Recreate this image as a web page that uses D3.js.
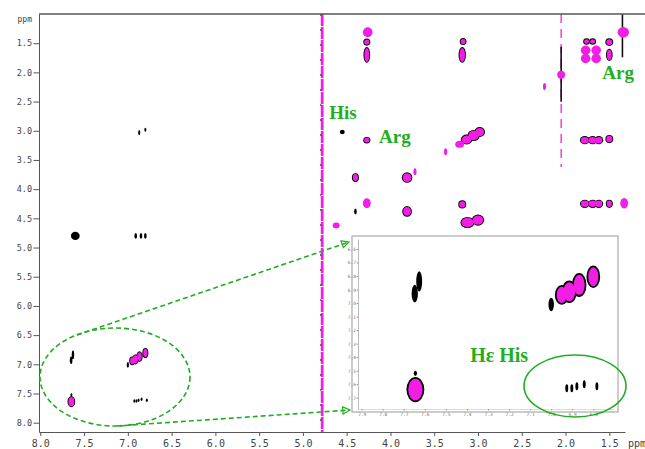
<!DOCTYPE html>
<html><head><meta charset="utf-8">
<script src="https://cdn.jsdelivr.net/npm/d3@7"></script>
<style>body{margin:0;background:#fff}svg{display:block}</style>
</head><body>
<svg id="c" width="645" height="449"></svg>
<script>
// ---------------- data ----------------
const xTickValues = [8.0,7.5,7.0,6.5,6.0,5.5,5.0,4.5,4.0,3.5,3.0,2.5,2.0,1.5];
const yTickValues = [1.5,2.0,2.5,3.0,3.5,4.0,4.5,5.0,5.5,6.0,6.5,7.0,7.5,8.0];
const insetXTicks = [7.9,7.8,7.7,7.6,7.5,7.4,7.3,7.2,7.1,7.0,6.9,6.8];
const insetYTicks = [6.6,6.7,6.8,6.9,7.0,7.1,7.2,7.3,7.4,7.5,7.6,7.7];
const axisUnit = "ppm";

// cross peaks: F2 (x, ppm), F1 (y, ppm), half widths (ppm), kind: p = positive (magenta), n = negative (black), b = both
const peakF2 = [4.26,4.27,4.27,3.17,3.18, 1.77,1.65,1.77,1.65,1.76,1.69, 1.50,1.50,1.34,2.05,2.24,
  4.55,4.27,3.21,3.13,3.05,2.98,3.37,1.78,1.69,1.62,1.50,4.40,3.81,3.72,4.27,4.40,3.81,3.18,
  1.78,1.69,1.62,1.50,1.33,3.12,3.00,4.62,
  6.87,6.80,7.60,6.91,6.85,6.80,7.627,7.648,6.80,6.867,6.914,6.95,7.00,7.645,7.645,
  6.926,6.902,6.878,6.843,6.783];
const peakF1 = [1.31,1.48,1.70,1.47,1.70, 1.62,1.62,1.76,1.76,1.47,1.47, 1.48,1.70,1.31,2.04,2.24,
  3.02,3.16,3.23,3.15,3.08,3.02,3.36,3.16,3.16,3.16,3.14,3.80,3.80,3.70,4.24,4.38,4.38,4.26,
  4.25,4.25,4.25,4.25,4.24,4.57,4.53,4.62,
  3.03,2.98,4.80,4.80,4.80,4.80,6.84,6.93,6.805,6.866,6.916,6.94,7.01,7.64,7.52,
  7.63,7.63,7.615,7.60,7.615];
const peakHalfW = [.055,.03,.028,.028,.032, .055,.055,.055,.055,.028,.028, .035,.028,.065,.045,.018,
  .028,.03,.05,.055,.06,.05,.018,.045,.045,.04,.035,.03,.05,.018,.045,.015,.045,.035,
  .045,.045,.04,.03,.045,.07,.06,.04,
  .012,.01,.05,.015,.015,.015,.014,.015,.024,.026,.028,.024,.013,.034,.008,
  .007,.007,.007,.007,.007];
const peakHalfH = [.085,.045,.12,.045,.12, .08,.08,.08,.08,.04,.04, .05,.09,.09,.07,.06,
  .04,.04,.06,.07,.08,.07,.06,.055,.055,.055,.055,.06,.075,.06,.085,.05,.075,.055,
  .055,.055,.055,.055,.09,.08,.08,.05,
  .045,.035,.07,.05,.05,.05,.075,.065,.07,.075,.07,.06,.05,.08,.02,
  .03,.03,.03,.03,.03];
const peakKind = ["p","b","b","b","b", "p","p","p","p","b","b", "b","b","p","p","p",
  "n","b","p","b","b","b","p","b","b","b","b","b","b","p","p","n","b","b",
  "b","b","b","b","p","b","b","p",
  "n","n","n","n","n","n","n","n","b","b","b","b","n","b","n",
  "n","n","n","n","n"];

const waterF2 = 4.78;                 // residual water ridge
const ridgeF2 = [2.05, 1.35];         // t1 noise ridges (black)
const ridgeF1From = [1.56, 1.0];
const ridgeF1To = [2.5, 1.74];
const dashedRidgeF2 = 2.05, dashedRidgeF1 = [1.0, 3.62];

const labels = [
  {text:"His", f2:4.70, f1:2.80, size:19},
  {text:"Arg", f2:4.13, f1:3.21, size:19},
  {text:"Arg", f2:1.58, f1:2.11, size:19}
];
const insetLabel = "Hε His";

// ---------------- drawing ----------------
const svg = d3.select("#c");
const GREEN = "#1fae1f", MAG = "#f21ee6", AX = "#555";

const x = d3.scaleLinear().domain([8.0, 1.5]).range([40.3, 609.3]);
const y = d3.scaleLinear().domain([1.0, 8.0]).range([14.1, 422.7]);
const L = 39, R = 645, T = 14, B = 432;

svg.append("defs").append("clipPath").attr("id","plot")
  .append("rect").attr("x",L).attr("y",T).attr("width",R-L).attr("height",B-T);

const plot = svg.append("g").attr("clip-path","url(#plot)");

// water ridge
plot.append("line").attr("x1",x(waterF2)).attr("x2",x(waterF2)).attr("y1",T).attr("y2",B)
  .attr("stroke",MAG).attr("stroke-width",2.8).attr("stroke-dasharray","12,1");
plot.append("line").attr("x1",x(waterF2)-1.4).attr("x2",x(waterF2)-1.4).attr("y1",T).attr("y2",B)
  .attr("stroke","#222").attr("stroke-width",0.8).attr("stroke-dasharray","2,13");

plot.append("line").attr("x1",x(dashedRidgeF2)).attr("x2",x(dashedRidgeF2))
  .attr("y1",y(dashedRidgeF1[0])).attr("y2",y(dashedRidgeF1[1]))
  .attr("stroke",MAG).attr("stroke-width",1.3).attr("stroke-dasharray","9,6");
ridgeF2.forEach((f,i)=>{
  plot.append("line").attr("x1",x(f)).attr("x2",x(f)).attr("y1",y(ridgeF1From[i])).attr("y2",y(ridgeF1To[i]))
    .attr("stroke","#111").attr("stroke-width",1.6);
});

const idx = d3.range(peakF2.length);
function drawPeaks(g, xs, ys, outline, minR){
  const back = g.append("g"), front = g.append("g");
  idx.forEach(i=>{
    const cx = xs(peakF2[i]), cy = ys(peakF1[i]);
    const rx = Math.max(minR, Math.abs(xs(peakF2[i]+peakHalfW[i])-cx));
    const ry = Math.max(minR*1.5, Math.abs(ys(peakF1[i]+peakHalfH[i])-cy));
    const k = peakKind[i];
    if(k==="n") back.append("ellipse").attr("cx",cx).attr("cy",cy).attr("rx",rx).attr("ry",ry).attr("fill","#000");
    if(k==="b") back.append("ellipse").attr("cx",cx).attr("cy",cy).attr("rx",rx+outline).attr("ry",ry+outline).attr("fill","#000");
    if(k==="b"||k==="p") front.append("ellipse").attr("cx",cx).attr("cy",cy).attr("rx",rx).attr("ry",ry).attr("fill",MAG);
  });
}
drawPeaks(plot, x, y, 0.9, 1);

// ---- axes ----
const xa = x.copy().domain([x.invert(L), x.invert(625)]).range([L,625]);
const minorX = d3.range(8.0, 1.25, -0.1);
const minorY = d3.range(1.0, 8.15, 0.1);
const gx = svg.append("g").attr("transform",`translate(0,${B})`);
gx.call(d3.axisBottom(xa).tickValues(minorX).tickSize(2).tickFormat("").tickSizeOuter(0));
gx.call(d3.axisBottom(xa).tickValues(xTickValues).tickSize(4).tickPadding(4).tickSizeOuter(0).tickFormat(d3.format(".1f")));
gx.selectAll("path,line").attr("stroke",AX);
gx.selectAll("text").attr("font-family","DejaVu Sans Mono").attr("font-size",10).attr("fill","#444");
svg.append("text").attr("x",628).attr("y",447).text(axisUnit)
  .attr("font-family","DejaVu Sans Mono").attr("font-size",10).attr("fill","#444");

const ya = y.copy().domain([1.0, y.invert(B)]).range([T,B]);
const gy = svg.append("g").attr("transform",`translate(${L},0)`);
gy.call(d3.axisLeft(ya).tickValues(minorY).tickSize(2.5).tickFormat("").tickSizeOuter(0));
gy.call(d3.axisLeft(ya).tickValues(yTickValues).tickSize(5.5).tickPadding(1.5).tickSizeOuter(0).tickFormat(d3.format(".1f")));
gy.selectAll("path,line").attr("stroke",AX);
gy.selectAll("text").attr("font-family","DejaVu Sans Mono").attr("font-size",8.5).attr("fill","#444");
svg.append("text").attr("x",32).attr("y",22).attr("text-anchor","end").text(axisUnit)
  .attr("font-family","DejaVu Sans Mono").attr("font-size",8).attr("fill","#444");
svg.append("line").attr("x1",L).attr("x2",R).attr("y1",T).attr("y2",T).attr("stroke",AX).attr("stroke-width",1.5);

// labels
labels.forEach(d=>{
  svg.append("text").attr("x",x(d.f2)).attr("y",y(d.f1)).text(d.text)
    .attr("font-family","Liberation Serif").attr("font-weight","bold").attr("font-size",d.size).attr("fill",GREEN);
});

// ---- inset ----
const IL = 352, IR = 618, IT = 236, IB = 412;
const ix = d3.scaleLinear().domain([7.9, 6.8]).range([361.7, 593.3]);
const iy = d3.scaleLinear().domain([6.6, 7.7]).range([249, 397.7]);
svg.append("rect").attr("x",IL).attr("y",IT).attr("width",IR-IL).attr("height",IB-IT)
  .attr("fill","#fff").attr("stroke","#999").attr("stroke-width",1);
svg.select("defs").append("clipPath").attr("id","inset")
  .append("rect").attr("x",IL).attr("y",IT).attr("width",IR-IL).attr("height",IB-IT);
const ig = svg.append("g").attr("clip-path","url(#inset)");
drawPeaks(ig, ix, iy, 1.8, 1.2);
const igx = svg.append("g").attr("transform",`translate(0,${IB-3})`);
igx.call(d3.axisBottom(ix.copy().domain([ix.invert(IL+6), ix.invert(IR-4)]).range([IL+6,IR-4]))
  .tickValues(insetXTicks).tickSize(1.5).tickPadding(2).tickSizeOuter(0).tickFormat(d3.format(".1f")));
igx.selectAll("path").attr("stroke","#bbb").attr("stroke-dasharray","1,1");
igx.selectAll("line").attr("stroke","#999");
igx.selectAll("text").attr("font-family","DejaVu Sans Mono").attr("font-size",4.5).attr("fill","#777");
const igy = svg.append("g").attr("transform",`translate(${IL+6},0)`);
igy.call(d3.axisLeft(iy.copy().domain([iy.invert(IT+3), iy.invert(IB-3)]).range([IT+3,IB-3]))
  .tickValues(insetYTicks).tickSize(1.5).tickPadding(0.5).tickSizeOuter(0).tickFormat(d3.format(".1f")));
igy.selectAll("path").attr("stroke","#bbb");
igy.selectAll("line").attr("stroke","#999");
igy.selectAll("text").attr("font-family","DejaVu Sans Mono").attr("font-size",4.5).attr("fill","#777");

svg.append("text").attr("x",ix(7.385)).attr("y",iy(7.438)).text(insetLabel)
  .attr("font-family","Liberation Serif").attr("font-weight","bold").attr("font-size",20).attr("fill",GREEN);
svg.append("ellipse").attr("cx",575).attr("cy",386).attr("rx",51).attr("ry",31)
  .attr("fill","none").attr("stroke",GREEN).attr("stroke-width",1.6);

// ---- zoom annotation (dashed ellipse + arrows) ----
svg.select("defs").append("marker").attr("id","arr").attr("viewBox","0 0 10 10").attr("refX",9).attr("refY",5)
  .attr("markerWidth",9).attr("markerHeight",9).attr("markerUnits","userSpaceOnUse").attr("orient","auto")
  .append("path").attr("d","M1,1 L9,5 L1,9 Z").attr("fill","none").attr("stroke",GREEN).attr("stroke-width",1.3);
svg.append("ellipse").attr("cx",115).attr("cy",377).attr("rx",75).attr("ry",49)
  .attr("fill","none").attr("stroke",GREEN).attr("stroke-width",1.6).attr("stroke-dasharray","5,3");
svg.append("line").attr("x1",77).attr("y1",335).attr("x2",349).attr("y2",242)
  .attr("stroke",GREEN).attr("stroke-width",1.6).attr("stroke-dasharray","5,3").attr("marker-end","url(#arr)");
svg.append("line").attr("x1",117).attr("y1",426).attr("x2",350).attr("y2",410)
  .attr("stroke",GREEN).attr("stroke-width",1.6).attr("stroke-dasharray","5,3").attr("marker-end","url(#arr)");
</script>
</body></html>
